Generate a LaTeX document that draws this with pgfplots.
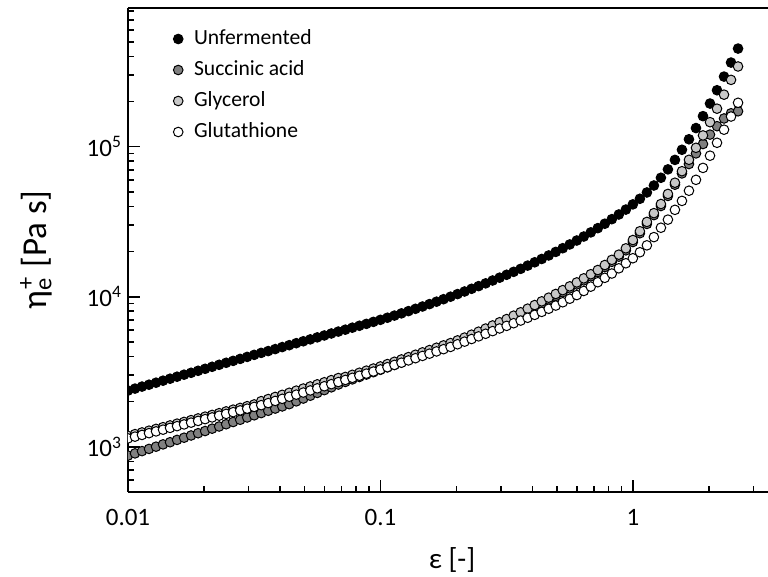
\documentclass[border=0pt]{standalone}
\usepackage{fontspec}
\setmainfont{Carlito}
\usepackage{pgfplots}
\pgfplotsset{compat=1.18}
\usepackage{pgfplotstable}

\definecolor{succ}{RGB}{128,128,128}
\definecolor{glyc}{RGB}{200,200,200}

% strain, then eta_e+ for Unfermented (U), Succinic acid (S), Glycerol (G), Glutathione (W)
\pgfplotstableread{
x U S G W
0.010000 2370 873.7 1183 1138
0.010661 2443 904.2 1215 1169
0.011365 2520 936.1 1247 1200
0.012115 2594 968.3 1281 1233
0.012915 2675 1002 1317 1267
0.013768 2759 1038 1352 1301
0.014678 2844 1073 1389 1337
0.015647 2933 1112 1427 1373
0.016681 3025 1150 1465 1410
0.017783 3114 1190 1506 1449
0.018957 3211 1232 1546 1488
0.020210 3311 1274 1589 1529
0.021544 3415 1321 1631 1570
0.022968 3521 1366 1676 1613
0.024484 3631 1414 1722 1657
0.026102 3739 1463 1769 1702
0.027826 3855 1514 1817 1749
0.029664 3975 1568 1866 1796
0.031623 4100 1622 1917 1845
0.033713 4227 1678 2015 1895
0.035938 4345 1738 2081 1957
0.038312 4480 1798 2150 2022
0.040842 4620 1859 2220 2088
0.043541 4757 1925 2292 2156
0.046416 4905 2009 2368 2227
0.049484 5050 2097 2446 2300
0.052749 5200 2190 2525 2375
0.056234 5362 2286 2608 2453
0.059948 5521 2386 2693 2533
0.063908 5692 2491 2782 2616
0.068129 5861 2600 2873 2702
0.072629 6035 2706 2922 2791
0.077426 6223 2814 3018 2882
0.082540 6407 2920 3117 2977
0.087992 6597 3030 3219 3074
0.093807 6802 3143 3325 3175
0.10000 7019 3261 3433 3279
0.10661 7250 3384 3560 3394
0.11365 7493 3511 3687 3514
0.12115 7751 3648 3823 3637
0.12915 8023 3808 3963 3765
0.13768 8309 3984 4108 3897
0.14678 8612 4130 4259 4034
0.15647 8933 4280 4413 4176
0.16681 9273 4437 4575 4322
0.17783 9632 4599 4742 4474
0.18957 10010 4765 4913 4632
0.20210 10420 4965 5120 4825
0.21544 10840 5185 5346 5022
0.22968 11300 5420 5589 5228
0.24484 11770 5675 5852 5445
0.26102 12280 5953 6138 5666
0.27826 12830 6243 6437 5902
0.29664 13400 6557 6761 6147
0.31623 14010 6887 7101 6397
0.33713 14660 7256 7482 6663
0.35938 15350 7643 7881 6940
0.38312 16130 8078 8330 7244
0.40842 16970 8538 8804 7573
0.43541 17860 9037 9318 7929
0.46416 18850 9565 9863 8318
0.49484 19910 10125 10440 8737
0.52749 21060 10736 11070 9190
0.56234 22320 11376 11730 9698
0.59948 23700 12084 12460 10260
0.63908 25200 12860 13260 10930
0.68129 26850 13703 14130 11680
0.72629 28660 14615 15070 12500
0.77426 30670 15779 16270 13370
0.82540 32890 17088 17620 14280
0.87992 35340 18504 19080 15470
0.93807 38110 20385 21020 16720
1.0000 41270 23159 23880 18060
1.0661 44970 26505 27330 19800
1.1365 49540 30578 31530 22010
1.2115 55140 34990 36080 24970
1.2915 62080 40250 41500 28840
1.3768 70630 46990 48450 32660
1.4678 81660 55810 57540 37960
1.5647 95390 66370 68660 43530
1.6681 112100 76660 81780 50890
1.7783 133100 90230 98330 60150
1.8957 159800 104200 118900 72240
2.0210 193900 120400 145700 87100
2.1544 237800 137000 179200 106200
2.2968 293200 154200 222200 129800
2.4484 363600 167000 278800 158900
2.6102 450700 172200 342500 196200
}\datatable

\begin{document}
\begin{tikzpicture}
\useasboundingbox (-64pt,-42.5pt) rectangle (320pt,246pt);
\begin{axis}[
    scale only axis,
    width=320pt, height=242pt,
    xmode=log, ymode=log,
    xmin=0.01, xmax=3.43,
    ymin=500, ymax=8.4e5,
    axis x line=box, axis y line=left,
    axis line style={-, line width=1pt},
    xtick pos=left, xticklabel pos=left,
    tick align=inside,
    major tick length=6pt, minor tick length=3.2pt,
    tick style={black, line width=0.8pt},
    xtick={0.01,0.1,1}, xticklabels={0.01,0.1,1},
    minor xtick={0.02,0.03,0.04,0.05,0.06,0.07,0.08,0.09,0.2,0.3,0.4,0.5,0.6,0.7,0.8,0.9,2,3},
    ytick={1000,10000,100000},
    yticklabels={10\textsuperscript{3},10\textsuperscript{4},10\textsuperscript{5}},
    minor ytick={600,700,800,900,2000,3000,4000,5000,6000,7000,8000,9000,20000,30000,40000,50000,60000,70000,80000,90000,200000,300000,400000,500000,600000,700000,800000},
    tick label style={font=\fontsize{12.5}{14}\selectfont},
    xticklabel style={yshift=-5pt},
    yticklabel style={xshift=0.5pt},
    xlabel={ε [-]},
    ylabel={η\rlap{\kern0.5pt\textsuperscript{+}}\textsubscript{e}\kern1pt\ [Pa s]},
    every axis x label/.style={at={(rel axis cs:0.5,0)}, anchor=center, yshift=-34pt, xshift=2pt, font=\fontsize{14.5}{16}\selectfont},
    every axis y label/.style={at={(rel axis cs:0,0.5)}, anchor=center, xshift=-46pt, rotate=90, font=\fontsize{17.5}{20}\selectfont},
    clip marker paths=true,
    legend cell align=left,
    legend image code/.code={\draw[#1] plot coordinates {(0pt,0pt)};},
    legend style={draw=none, fill=none, at={(rel axis cs:0.061,0.975)}, anchor=north west,
        font=\fontsize{10.8}{13}\selectfont, row sep=1pt, column sep=3.5pt,
        nodes={inner sep=2pt, text height=8pt, text depth=2.5pt}},
]
\addplot[only marks, mark=*, mark size=2.4pt, mark options={draw=black, fill=black, line width=0.5pt}]
    table[x=x, y=U] {\datatable};
\addlegendentry{Unfermented}
\addplot[only marks, mark=*, mark size=2.4pt, mark options={draw=black, fill=succ, line width=0.5pt}]
    table[x=x, y=S] {\datatable};
\addlegendentry{Succinic acid}
\addplot[only marks, mark=*, mark size=2.4pt, mark options={draw=black, fill=glyc, line width=0.5pt}]
    table[x=x, y=G] {\datatable};
\addlegendentry{Glycerol}
\addplot[only marks, mark=*, mark size=2.4pt, mark options={draw=black, fill=white, line width=0.5pt}]
    table[x=x, y=W] {\datatable};
\addlegendentry{Glutathione}
\end{axis}
\end{tikzpicture}
\end{document}
